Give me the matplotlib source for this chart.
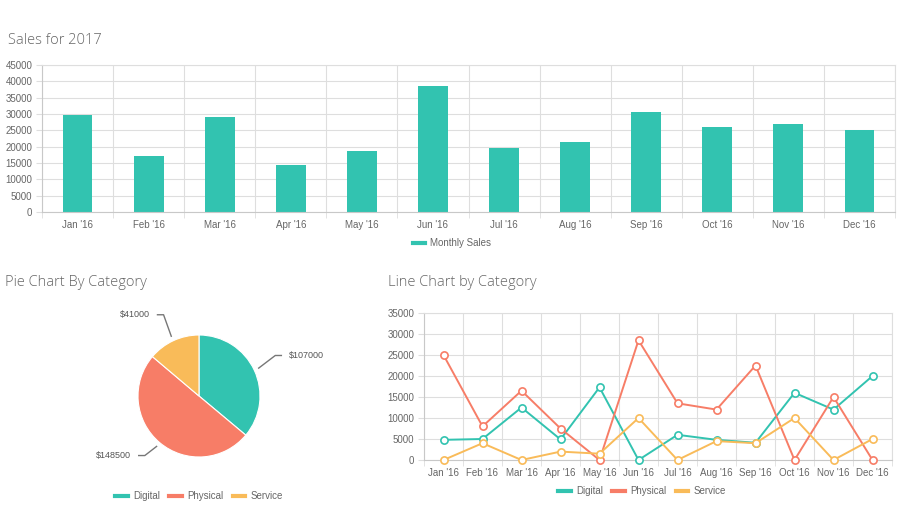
import numpy as np
import matplotlib
matplotlib.use("Agg")
import matplotlib.pyplot as plt
from matplotlib.lines import Line2D

plt.rcParams['font.family'] = ['Liberation Sans', 'DejaVu Sans']

# data
months = ["Jan '16", "Feb '16", "Mar '16", "Apr '16", "May '16", "Jun '16",
          "Jul '16", "Aug '16", "Sep '16", "Oct '16", "Nov '16", "Dec '16"]
monthly_sales = [29800, 17000, 29000, 14400, 18800, 38500,
                 19500, 21300, 30600, 26000, 27000, 25000]

categories = ["Digital", "Physical", "Service"]
category_totals = [107000, 148500, 41000]

digital = [4800, 5000, 12500, 4900, 17300, 0, 6000, 4800, 4100, 16000, 12000, 20000]
physical = [25000, 8000, 16500, 7500, 0, 28500, 13500, 12000, 22500, 0, 15000, 0]
service = [0, 4000, 0, 2000, 1500, 10000, 0, 4500, 4000, 10000, 0, 5000]

colors = ["#32c3b0", "#f77d67", "#f9bb59"]
grid_c = "#dedede"
axis_c = "#c8c8c8"
tick_c = "#666666"
title_c = "#666666"
W, H = 900, 515


def box(left, top, right, bottom):
    return [left / W, 1 - bottom / H, (right - left) / W, (bottom - top) / H]


def style_axes(ax, n, ymax, step):
    x = np.arange(n)
    ax.set_xlim(-0.5, n - 0.5)
    ax.set_ylim(0, ymax)
    ax.set_yticks(np.arange(0, ymax + 1, step))
    ax.set_xticks(x)
    ax.set_xticklabels(months)
    ax.set_xticks(np.arange(n + 1) - 0.5, minor=True)
    ax.grid(True, which='minor', axis='x', color=grid_c, lw=0.8)
    ax.grid(True, which='major', axis='y', color=grid_c, lw=0.8)
    ax.set_axisbelow(True)
    ax.tick_params(axis='x', which='major', length=0, pad=6, labelsize=7, labelcolor=tick_c)
    ax.tick_params(axis='x', which='minor', length=4, color=grid_c)
    ax.tick_params(axis='y', length=4, color=grid_c, pad=3, labelsize=7, labelcolor=tick_c)
    for s in ['top', 'right']:
        ax.spines[s].set_color(grid_c)
        ax.spines[s].set_linewidth(0.8)
    for s in ['left', 'bottom']:
        ax.spines[s].set_color(axis_c)
        ax.spines[s].set_linewidth(0.8)


def chart_legend(labels, cols, cx, cy):
    handles = [Line2D([], [], color=c, lw=3) for c in cols]
    fig.legend(handles, labels, loc='center', bbox_to_anchor=(cx / W, 1 - cy / H),
               ncol=len(labels), frameon=False, fontsize=7, handlelength=1.3,
               handletextpad=0.5, columnspacing=1.0, labelcolor=tick_c)


def title(x, y, s):
    fig.text(x / W, 1 - y / H, s, fontsize=10.5, color=title_c, fontweight='light',
             family=['Open Sans', 'DejaVu Sans'], va='center', ha='left')


fig = plt.figure(figsize=(9, 5.15), dpi=100)

# bar chart
ax1 = fig.add_axes(box(42, 65, 895, 212))
style_axes(ax1, len(months), 45000, 5000)
ax1.bar(np.arange(len(months)), monthly_sales, width=0.42, color=colors[0])
title(8, 40, "Sales for 2017")
chart_legend(["Monthly Sales"], [colors[0]], 452, 243)

# pie chart
ax2 = fig.add_axes(box(138, 335, 260, 457))
wedges, _ = ax2.pie(category_totals, colors=colors, startangle=90, counterclock=False,
                    radius=1, wedgeprops=dict(edgecolor='white', linewidth=0.8))
ax2.set_xlim(-1, 1)
ax2.set_ylim(-1, 1)
ax2.set_aspect('equal')
for w, v in zip(wedges, category_totals):
    ang = np.deg2rad((w.theta1 + w.theta2) / 2)
    ca, sa = np.cos(ang), np.sin(ang)
    p0 = (1.08 * ca, 1.08 * sa)
    p1 = (1.38 * ca, 1.38 * sa + 0.08)
    side = 1 if ca >= 0 else -1
    p2 = (p1[0] + side * 0.1, p1[1])
    ax2.add_line(Line2D([p0[0], p1[0], p2[0]], [p0[1], p1[1], p2[1]],
                        color="#777777", lw=1.0, clip_on=False))
    ax2.text(p2[0] + side * 0.12, p2[1], "$%d" % v, fontsize=6.5, color="#555555",
             ha='left' if side > 0 else 'right', va='center', clip_on=False)
title(5, 282, "Pie Chart By Category")
chart_legend(categories, colors, 199, 496)

# line chart
ax3 = fig.add_axes(box(424, 313, 892, 460))
style_axes(ax3, len(months), 35000, 5000)
x = np.arange(len(months))
for series, c in zip([digital, physical, service], colors):
    ax3.plot(x, series, color=c, lw=1.4, marker='o', markersize=5.2,
             markerfacecolor='white', markeredgecolor=c, markeredgewidth=1.2,
             clip_on=False, zorder=3)
title(388, 282, "Line Chart by Category")
chart_legend(categories, colors, 642, 491)

fig.savefig("out.png", dpi=100, facecolor='white')
